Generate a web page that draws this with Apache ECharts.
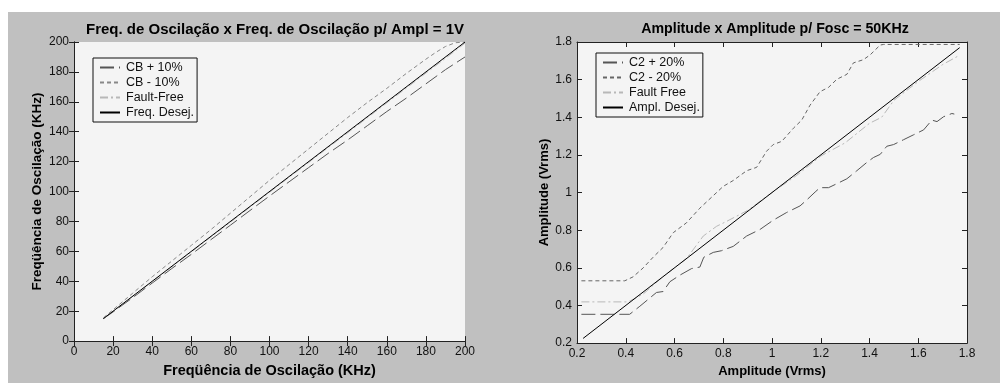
<!DOCTYPE html>
<html>
<head>
<meta charset="utf-8">
<script src="https://cdn.jsdelivr.net/npm/echarts@6/dist/echarts.min.js"></script>
<style>
  html, body { margin: 0; padding: 0; background: #fff; }
  #chart { position: absolute; left: 8px; top: 12px; width: 992px; height: 371px; }
</style>
</head>
<body>
<div id="chart"></div>
<script>
// ===== left: frequency =====
const freqX = [15, 20, 25, 30, 40, 50, 60, 70, 80, 90, 100, 110, 120, 130, 140, 150, 160, 170, 180, 190, 200]
const cbPlus = [15, 19.5, 24.3, 29, 38.8, 48.5, 58, 67.8, 77.5, 87.3, 97, 106.5, 116, 125.5, 134.5, 144, 153.5, 162.5, 172, 181.5, 190]
const cbMinusX = [15, 20, 25, 30, 40, 50, 60, 70, 80, 90, 100, 110, 120, 130, 140, 150, 160, 170, 180, 185, 190, 195, 200]
const cbMinus = [15.5, 21, 26.5, 32, 43, 53.5, 64, 74.5, 85.5, 96.5, 107.5, 118, 128.5, 139, 149.5, 159.5, 169, 179, 188.5, 193, 197, 199.5, 200]
const freqFault = [15, 20, 25, 29.9, 39.8, 49.7, 59.6, 69.6, 79.5, 89.5, 99.5, 109.5, 119.4, 129.4, 139.3, 149.3, 159.3, 169.2, 179.2, 189.1, 199.2]
const freqDesejX = [15, 200]
const freqDesej = [15, 200]

// ===== right: amplitude =====
const c2PlusX = [0.218, 0.416, 0.458, 0.526, 0.553, 0.581, 0.622, 0.67, 0.704, 0.72, 0.759, 0.793, 0.841, 0.896, 0.951, 1.005, 1.06, 1.115, 1.142, 1.177, 1.197, 1.232, 1.266, 1.307, 1.348, 1.389, 1.416, 1.444, 1.471, 1.499, 1.54, 1.581, 1.622, 1.656, 1.677, 1.704, 1.738, 1.748]
const c2Plus = [0.353, 0.353, 0.396, 0.469, 0.474, 0.526, 0.561, 0.596, 0.604, 0.656, 0.682, 0.691, 0.714, 0.769, 0.804, 0.853, 0.894, 0.929, 0.96, 1.003, 1.026, 1.026, 1.047, 1.073, 1.116, 1.16, 1.186, 1.203, 1.246, 1.255, 1.281, 1.307, 1.333, 1.385, 1.377, 1.403, 1.42, 1.417]
const c2MinusX = [0.218, 0.396, 0.43, 0.471, 0.512, 0.553, 0.595, 0.649, 0.704, 0.8, 0.841, 0.896, 0.937, 0.978, 1.005, 1.04, 1.088, 1.122, 1.156, 1.197, 1.232, 1.266, 1.307, 1.334, 1.375, 1.403, 1.444, 1.458, 1.77]
const c2Minus = [0.531, 0.531, 0.552, 0.599, 0.656, 0.708, 0.787, 0.839, 0.917, 1.033, 1.064, 1.116, 1.134, 1.22, 1.255, 1.272, 1.342, 1.385, 1.464, 1.536, 1.559, 1.602, 1.628, 1.689, 1.706, 1.732, 1.784, 1.787, 1.787]
const ampFaultX = [0.218, 0.41, 0.471, 0.55, 0.65, 0.718, 0.773, 0.814, 0.9, 1.0, 1.1, 1.2, 1.3, 1.4, 1.45, 1.5, 1.6, 1.7, 1.77]
const ampFault = [0.419, 0.419, 0.46, 0.55, 0.65, 0.769, 0.821, 0.847, 0.905, 1.0, 1.09, 1.194, 1.264, 1.368, 1.4, 1.49, 1.59, 1.68, 1.73]
const ampDesejX = [0.225, 1.77]
const ampDesej = [0.225, 1.77]

const FONT = 'Liberation Sans'
const LONG_DASH = [14, 5]
const SHORT_DASH = [4, 3]
const DASH_DOT = [8, 3, 2, 3]

function pairs(xs, ys) {
  return xs.map((x, i) => [x, ys[i]])
}

function axisPair(gridIndex, min, max, interval, name, nameGap, nameSize) {
  const common = {
    gridIndex,
    type: 'value',
    min,
    max,
    interval,
    axisLine: { show: true, lineStyle: { color: '#222', width: 1 } },
    axisTick: { show: true, inside: true, length: 5, lineStyle: { color: '#222' } },
    splitLine: { show: false },
  }
  return [
    {
      ...common,
      name,
      nameLocation: 'middle',
      nameGap,
      nameTextStyle: { fontFamily: FONT, fontSize: nameSize, fontWeight: 'bold', color: '#000' },
      axisLabel: { fontFamily: FONT, fontSize: 12, color: '#111', margin: 5 },
    },
    { ...common, axisLabel: { show: false } },
  ]
}

function line(name, xs, ys, idx, color, type) {
  return {
    name,
    type: 'line',
    xAxisIndex: idx * 2,
    yAxisIndex: idx * 2,
    data: pairs(xs, ys),
    symbol: 'none',
    smooth: false,
    silent: true,
    lineStyle: { color, width: 1, type },
    itemStyle: { color },
  }
}

const leftX = axisPair(0, 0, 200, 20, 'Freqüência de Oscilação (KHz)', 17, 14.5)
const leftY = axisPair(0, 0, 200, 20, 'Freqüência de Oscilação (KHz)', 30, 13.5)
const rightX = axisPair(1, 0.2, 1.8, 0.2, 'Amplitude (Vrms)', 17, 13)
const rightY = axisPair(1, 0.2, 1.8, 0.2, 'Amplitude (Vrms)', 26, 13)
leftX[1].position = 'top'; rightX[1].position = 'top'
leftY[1].position = 'right'; rightY[1].position = 'right'

const legendBase = {
  orient: 'vertical',
  itemWidth: 20,
  itemHeight: 12,
  itemGap: 2,
  padding: [3, 3, 3, 6],
  backgroundColor: '#f4f4f4',
  borderColor: '#111',
  borderWidth: 1,
  borderRadius: 0,
  selectedMode: false,
  itemStyle: { opacity: 0 },
  textStyle: { fontFamily: FONT, fontSize: 12.5, color: '#111', padding: [0, 0, 0, 1] },
}

const chart = echarts.init(document.getElementById('chart'), null, { renderer: 'canvas' })
chart.setOption({
  backgroundColor: '#c0c0c0',
  animation: false,
  title: [
    { text: 'Freq. de Oscilação x Freq. de Oscilação p/ Ampl = 1V', left: 262, top: 5, textAlign: 'center',
      textStyle: { fontFamily: FONT, fontSize: 15, fontWeight: 'bold', color: '#000' } },
    { text: 'Amplitude x Amplitude p/ Fosc = 50KHz', left: 762, top: 5, textAlign: 'center',
      textStyle: { fontFamily: FONT, fontSize: 14.2, fontWeight: 'bold', color: '#000' } },
  ],
  grid: [
    { left: 66, top: 30, width: 391, height: 307, show: true, backgroundColor: '#f4f4f4', borderWidth: 0 },
    { left: 569, top: 30, width: 390, height: 307, show: true, backgroundColor: '#f4f4f4', borderWidth: 0 },
  ],
  xAxis: [...leftX, ...rightX],
  yAxis: [...leftY, ...rightY],
  legend: [
    { ...legendBase, left: 85, top: 46, data: ['CB + 10%', 'CB - 10%', 'Fault-Free', 'Freq. Desej.'] },
    { ...legendBase, left: 588, top: 41, data: ['C2 + 20%', 'C2 - 20%', 'Fault Free', 'Ampl. Desej.'] },
  ],
  series: [
    line('CB + 10%', freqX, cbPlus, 0, '#555', LONG_DASH),
    line('CB - 10%', cbMinusX, cbMinus, 0, '#888', SHORT_DASH),
    line('Fault-Free', freqX, freqFault, 0, '#b8b8b8', DASH_DOT),
    line('Freq. Desej.', freqDesejX, freqDesej, 0, '#000', 'solid'),
    line('C2 + 20%', c2PlusX, c2Plus, 1, '#555', LONG_DASH),
    line('C2 - 20%', c2MinusX, c2Minus, 1, '#666', SHORT_DASH),
    line('Fault Free', ampFaultX, ampFault, 1, '#b8b8b8', DASH_DOT),
    line('Ampl. Desej.', ampDesejX, ampDesej, 1, '#000', 'solid'),
  ],
})
</script>
</body>
</html>
